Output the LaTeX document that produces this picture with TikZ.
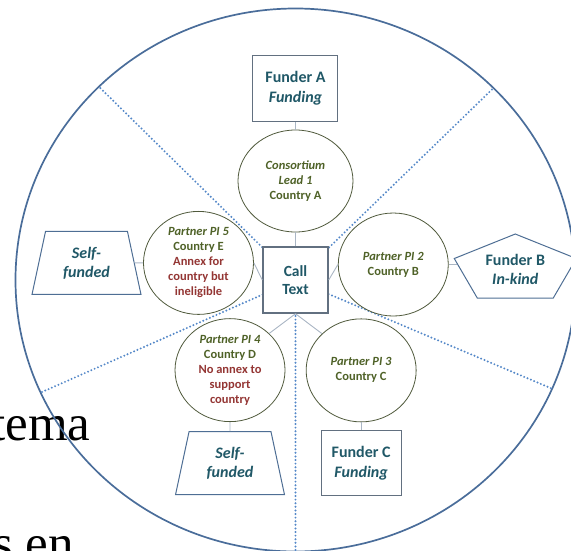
\documentclass[tikz,border=0pt]{standalone}
\usepackage{fontspec}
\setmainfont{Carlito}
\newfontfamily\bgfont{Liberation Serif}
\usetikzlibrary{shapes.geometric}
\definecolor{rimblue}{RGB}{74,109,154}
\definecolor{dotblue}{RGB}{84,136,200}
\definecolor{boxgray}{RGB}{98,112,128}
\definecolor{shapeblue}{RGB}{78,110,148}
\definecolor{ringolive}{RGB}{80,90,60}
\definecolor{linkgray}{RGB}{170,182,196}
\definecolor{funderteal}{RGB}{32,88,103}
\definecolor{olivetext}{RGB}{79,98,40}
\definecolor{annexred}{RGB}{148,54,52}
\begin{document}
\begin{tikzpicture} [x=1pt,y=1pt,sibling distance=0pt,
  rim/.style={draw=rimblue,line width=1.7pt},
  sector/.style={draw=dotblue,line width=2.2pt,line cap=round,dash pattern=on 0pt off 3.6pt},
  link/.style={draw=linkgray,line width=0.9pt},
  edge from parent/.style={link},
  callbox/.style={rectangle,draw=boxgray,line width=1.4pt,fill=white,minimum width=65pt,minimum height=66pt,inner sep=0pt,text=funderteal,font=\bfseries\fontsize{15.5}{18}\selectfont,align=center},
  funder/.style={rectangle,draw=boxgray,line width=1pt,fill=white,inner sep=0pt,text=funderteal,font=\bfseries\fontsize{16}{19.5}\selectfont,align=center},
  partner/.style={ellipse,draw=ringolive,line width=0.8pt,fill=white,minimum width=110pt,minimum height=103pt,inner sep=0pt,text=olivetext,font=\bfseries\fontsize{12.5}{15}\selectfont,align=center},
  selffund/.style={trapezium,trapezium left angle=76.5,trapezium right angle=76.5,trapezium stretches=true,minimum width=109pt,minimum height=63pt,draw=shapeblue,line width=1pt,fill=white,inner sep=0pt,text=funderteal,font=\bfseries\itshape\fontsize{16}{19}\selectfont,align=center},
  bgtext/.style={font=\bgfont\fontsize{51}{60}\selectfont,inner sep=0pt,anchor=base west}]
\useasboundingbox (-295.5,-270) rectangle (275.5,280);
\coordinate (hub) at (0,0);
% text of the page behind
\node [bgtext] (bgA) at (-304.5,-160) {tema};
\node [bgtext] (bgB) at (-302.5,-280) {s en};
\draw [rim] (hub) ellipse [x radius=280pt, y radius=271.5pt];
\foreach \t in {45,134.6,204.5,270,336.4}
  \draw [sector] (hub) -- (\t:280pt and 271.5pt);
\node [callbox] (call) at (hub) {Call\\Text}
child [grow=up, level distance=99pt] { node [partner, minimum width=115pt, minimum height=102pt] (lead) {\textit{Consortium}\\\textit{Lead 1}\\Country A}
  child [level distance=93pt] { node [funder, minimum width=85pt, minimum height=66pt] (funderA) {Funder A\\\textit{Funding}} }
}
child [grow=9.9, level distance=99pt, edge from parent path={(\tikzparentnode.east) -- (\tikzchildnode.west)}] { node [partner] (pi2) {\textit{Partner PI 2}\\Country B}
  child [grow=right, level distance=122pt, edge from parent path={(\tikzparentnode.east) -- (\tikzparentnode.east -| \tikzchildnode.west)}] { node [funder, draw=none, fill=none, minimum width=115pt, minimum height=60pt, yshift=-5pt] (funderB) {Funder B\\\textit{In-kind}} }
}
child [grow=-54.1, level distance=111.7pt, edge from parent path={(\tikzparentnode.south) -- (\tikzchildnode.north west)}] { node [partner] (pi3) {\textit{Partner PI 3}\\Country C}
  child [grow=down, level distance=93pt, edge from parent path={(\tikzparentnode.south) -- (\tikzchildnode.north)}] { node [funder, minimum width=80pt, minimum height=65pt] (funderC) {Funder C\\\textit{Funding}} }
}
child [grow=234.3, level distance=111.4pt, edge from parent path={(\tikzparentnode.south) -- (\tikzchildnode.north east)}] { node [partner] (pi4) {\textit{Partner PI 4}\\Country D\\\textcolor{annexred}{No annex to}\\\textcolor{annexred}{support}\\\textcolor{annexred}{country}}
  child [grow=down, level distance=93pt, edge from parent path={(\tikzparentnode.south) -- (\tikzchildnode.north)}] { node [selffund] (selfB) {Self-\\funded} }
}
child [grow=170.1, level distance=98.5pt, edge from parent path={(\tikzparentnode.west) -- (\tikzchildnode.east)}] { node [partner] (pi5) {\textit{Partner PI 5}\\Country E\\\textcolor{annexred}{Annex for}\\\textcolor{annexred}{country but}\\\textcolor{annexred}{ineligible}}
  child [grow=left, level distance=112pt] { node [selffund] (selfA) {Self-\\funded} }
};
\draw [shapeblue, line width=1pt, shift={(funderB)}] (0,35.5) -- (61,11) -- (38,-28.5) -- (-38,-28.5) -- (-61,11) -- cycle;
\end{tikzpicture}
\end{document}
